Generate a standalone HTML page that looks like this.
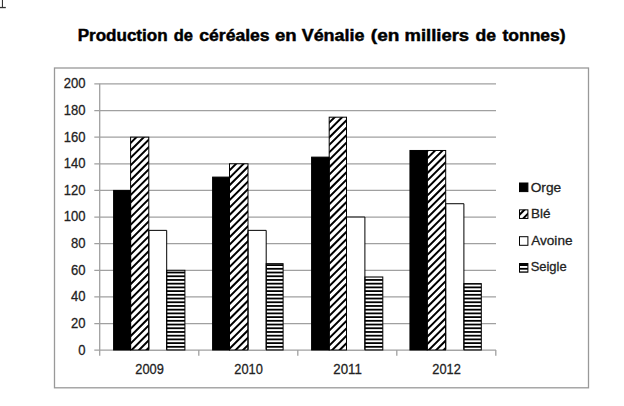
<!DOCTYPE html>
<html><head><meta charset="utf-8"><style>
html,body{margin:0;padding:0;background:#fff;width:624px;height:406px;overflow:hidden}
svg{display:block}
text{font-family:"Liberation Sans",sans-serif}
</style></head><body>
<svg width="624" height="406" viewBox="0 0 624 406">
<defs>
<clipPath id="cb"><rect x="130.60" y="137.16" width="18.20" height="212.84"/><rect x="229.50" y="163.79" width="18.50" height="186.21"/><rect x="329.20" y="117.19" width="17.30" height="232.81"/><rect x="427.20" y="150.47" width="18.50" height="199.53"/><rect x="519.5" y="209.85" width="8.4" height="8.6"/></clipPath>
<clipPath id="cs"><rect x="166.70" y="270.31" width="18.20" height="79.69"/><rect x="266.20" y="263.65" width="16.90" height="86.35"/><rect x="364.90" y="276.97" width="17.90" height="73.03"/><rect x="463.90" y="283.62" width="17.40" height="66.38"/><rect x="519.5" y="263.55" width="8.4" height="8.6"/></clipPath>
</defs>
<rect width="624" height="406" fill="#fff"/>
<rect x="1.9" y="0" width="1.1" height="7.6" fill="#333"/><rect x="0" y="6.9" width="5.8" height="1.3" fill="#333"/>
<text x="77.69" y="41.0" font-size="16" font-weight="bold" fill="#000" stroke="#000" stroke-width="0.45" textLength="89.89" lengthAdjust="spacingAndGlyphs">Production</text>
<text x="173.68" y="41.0" font-size="16" font-weight="bold" fill="#000" stroke="#000" stroke-width="0.45" textLength="19.26" lengthAdjust="spacingAndGlyphs">de</text>
<text x="199.30" y="41.0" font-size="16" font-weight="bold" fill="#000" stroke="#000" stroke-width="0.45" textLength="70.32" lengthAdjust="spacingAndGlyphs">céréales</text>
<text x="275.05" y="41.0" font-size="16" font-weight="bold" fill="#000" stroke="#000" stroke-width="0.45" textLength="21.62" lengthAdjust="spacingAndGlyphs">en</text>
<text x="301.69" y="41.0" font-size="16" font-weight="bold" fill="#000" stroke="#000" stroke-width="0.45" textLength="62.75" lengthAdjust="spacingAndGlyphs">Vénalie</text>
<text x="370.89" y="41.0" font-size="16" font-weight="bold" fill="#000" stroke="#000" stroke-width="0.45" textLength="28.46" lengthAdjust="spacingAndGlyphs">(en</text>
<text x="404.49" y="41.0" font-size="16" font-weight="bold" fill="#000" stroke="#000" stroke-width="0.45" textLength="64.59" lengthAdjust="spacingAndGlyphs">milliers</text>
<text x="475.50" y="41.0" font-size="16" font-weight="bold" fill="#000" stroke="#000" stroke-width="0.45" textLength="20.54" lengthAdjust="spacingAndGlyphs">de</text>
<text x="502.49" y="41.0" font-size="16" font-weight="bold" fill="#000" stroke="#000" stroke-width="0.45" textLength="63.13" lengthAdjust="spacingAndGlyphs">tonnes)</text>
<rect x="54.5" y="68" width="534" height="319.8" fill="none" stroke="#999" stroke-width="1.3"/>
<line x1="94.3" y1="350.20" x2="496" y2="350.20" stroke="#a0a0a0" stroke-width="1.3"/>
<text x="85.6" y="354.60" font-size="14.5" text-anchor="end" fill="#222" stroke="#222" stroke-width="0.28" textLength="7.26" lengthAdjust="spacingAndGlyphs">0</text>
<line x1="94.3" y1="323.57" x2="496" y2="323.57" stroke="#a0a0a0" stroke-width="1.3"/>
<text x="85.6" y="327.97" font-size="14.5" text-anchor="end" fill="#222" stroke="#222" stroke-width="0.28" textLength="14.51" lengthAdjust="spacingAndGlyphs">20</text>
<line x1="94.3" y1="296.94" x2="496" y2="296.94" stroke="#a0a0a0" stroke-width="1.3"/>
<text x="85.6" y="301.34" font-size="14.5" text-anchor="end" fill="#222" stroke="#222" stroke-width="0.28" textLength="14.51" lengthAdjust="spacingAndGlyphs">40</text>
<line x1="94.3" y1="270.31" x2="496" y2="270.31" stroke="#a0a0a0" stroke-width="1.3"/>
<text x="85.6" y="274.71" font-size="14.5" text-anchor="end" fill="#222" stroke="#222" stroke-width="0.28" textLength="14.51" lengthAdjust="spacingAndGlyphs">60</text>
<line x1="94.3" y1="243.68" x2="496" y2="243.68" stroke="#a0a0a0" stroke-width="1.3"/>
<text x="85.6" y="248.08" font-size="14.5" text-anchor="end" fill="#222" stroke="#222" stroke-width="0.28" textLength="14.51" lengthAdjust="spacingAndGlyphs">80</text>
<line x1="94.3" y1="217.05" x2="496" y2="217.05" stroke="#a0a0a0" stroke-width="1.3"/>
<text x="85.6" y="221.45" font-size="14.5" text-anchor="end" fill="#222" stroke="#222" stroke-width="0.28" textLength="21.77" lengthAdjust="spacingAndGlyphs">100</text>
<line x1="94.3" y1="190.42" x2="496" y2="190.42" stroke="#a0a0a0" stroke-width="1.3"/>
<text x="85.6" y="194.82" font-size="14.5" text-anchor="end" fill="#222" stroke="#222" stroke-width="0.28" textLength="21.77" lengthAdjust="spacingAndGlyphs">120</text>
<line x1="94.3" y1="163.79" x2="496" y2="163.79" stroke="#a0a0a0" stroke-width="1.3"/>
<text x="85.6" y="168.19" font-size="14.5" text-anchor="end" fill="#222" stroke="#222" stroke-width="0.28" textLength="21.77" lengthAdjust="spacingAndGlyphs">140</text>
<line x1="94.3" y1="137.16" x2="496" y2="137.16" stroke="#a0a0a0" stroke-width="1.3"/>
<text x="85.6" y="141.56" font-size="14.5" text-anchor="end" fill="#222" stroke="#222" stroke-width="0.28" textLength="21.77" lengthAdjust="spacingAndGlyphs">160</text>
<line x1="94.3" y1="110.53" x2="496" y2="110.53" stroke="#a0a0a0" stroke-width="1.3"/>
<text x="85.6" y="114.93" font-size="14.5" text-anchor="end" fill="#222" stroke="#222" stroke-width="0.28" textLength="21.77" lengthAdjust="spacingAndGlyphs">180</text>
<line x1="94.3" y1="83.90" x2="496" y2="83.90" stroke="#a0a0a0" stroke-width="1.3"/>
<text x="85.6" y="88.30" font-size="14.5" text-anchor="end" fill="#222" stroke="#222" stroke-width="0.28" textLength="21.77" lengthAdjust="spacingAndGlyphs">200</text>
<line x1="99.7" y1="83.7" x2="99.7" y2="355.8" stroke="#a0a0a0" stroke-width="1.3"/>
<line x1="198.80" y1="350" x2="198.80" y2="355.8" stroke="#a0a0a0" stroke-width="1.3"/>
<line x1="297.80" y1="350" x2="297.80" y2="355.8" stroke="#a0a0a0" stroke-width="1.3"/>
<line x1="396.80" y1="350" x2="396.80" y2="355.8" stroke="#a0a0a0" stroke-width="1.3"/>
<line x1="495.80" y1="350" x2="495.80" y2="355.8" stroke="#a0a0a0" stroke-width="1.3"/>
<rect x="113.60" y="190.42" width="17.00" height="159.58" fill="#000"/>
<rect x="212.60" y="177.10" width="16.90" height="172.90" fill="#000"/>
<rect x="311.60" y="157.13" width="17.60" height="192.87" fill="#000"/>
<rect x="409.95" y="150.47" width="17.25" height="199.53" fill="#000"/>
<rect x="130.60" y="137.16" width="18.20" height="212.84" fill="#fff"/>
<rect x="229.50" y="163.79" width="18.50" height="186.21" fill="#fff"/>
<rect x="329.20" y="117.19" width="17.30" height="232.81" fill="#fff"/>
<rect x="427.20" y="150.47" width="18.50" height="199.53" fill="#fff"/>
<rect x="148.80" y="230.36" width="17.90" height="119.64" fill="#fff"/>
<rect x="248.00" y="230.36" width="18.20" height="119.64" fill="#fff"/>
<rect x="346.50" y="217.05" width="18.40" height="132.95" fill="#fff"/>
<rect x="445.70" y="203.73" width="18.20" height="146.27" fill="#fff"/>
<rect x="166.70" y="270.31" width="18.20" height="79.69" fill="#fff"/>
<rect x="266.20" y="263.65" width="16.90" height="86.35" fill="#fff"/>
<rect x="364.90" y="276.97" width="17.90" height="73.03" fill="#fff"/>
<rect x="463.90" y="283.62" width="17.40" height="66.38" fill="#fff"/>
<path clip-path="url(#cb)" d="M102.140,60 L-237.860,400 M109.570,60 L-230.430,400 M117.000,60 L-223.000,400 M124.430,60 L-215.570,400 M131.860,60 L-208.140,400 M139.290,60 L-200.710,400 M146.720,60 L-193.280,400 M154.150,60 L-185.850,400 M161.580,60 L-178.420,400 M169.010,60 L-170.990,400 M176.440,60 L-163.560,400 M183.870,60 L-156.130,400 M191.300,60 L-148.700,400 M198.730,60 L-141.270,400 M206.160,60 L-133.840,400 M213.590,60 L-126.410,400 M221.020,60 L-118.980,400 M228.450,60 L-111.550,400 M235.880,60 L-104.120,400 M243.310,60 L-96.690,400 M250.740,60 L-89.260,400 M258.170,60 L-81.830,400 M265.600,60 L-74.400,400 M273.030,60 L-66.970,400 M280.460,60 L-59.540,400 M287.890,60 L-52.110,400 M295.320,60 L-44.680,400 M302.750,60 L-37.250,400 M310.180,60 L-29.820,400 M317.610,60 L-22.390,400 M325.040,60 L-14.960,400 M332.470,60 L-7.530,400 M339.900,60 L-0.100,400 M347.330,60 L7.330,400 M354.760,60 L14.760,400 M362.190,60 L22.190,400 M369.620,60 L29.620,400 M377.050,60 L37.050,400 M384.480,60 L44.480,400 M391.910,60 L51.910,400 M399.340,60 L59.340,400 M406.770,60 L66.770,400 M414.200,60 L74.200,400 M421.630,60 L81.630,400 M429.060,60 L89.060,400 M436.490,60 L96.490,400 M443.920,60 L103.920,400 M451.350,60 L111.350,400 M458.780,60 L118.780,400 M466.210,60 L126.210,400 M473.640,60 L133.640,400 M481.070,60 L141.070,400 M488.500,60 L148.500,400 M495.930,60 L155.930,400 M503.360,60 L163.360,400 M510.790,60 L170.790,400 M518.220,60 L178.220,400 M525.650,60 L185.650,400 M533.080,60 L193.080,400 M540.510,60 L200.510,400 M547.940,60 L207.940,400 M555.370,60 L215.370,400 M562.800,60 L222.800,400 M570.230,60 L230.230,400 M577.660,60 L237.660,400 M585.090,60 L245.090,400 M592.520,60 L252.520,400 M599.950,60 L259.950,400 M607.380,60 L267.380,400 M614.810,60 L274.810,400 M622.240,60 L282.240,400 M629.670,60 L289.670,400 M637.100,60 L297.100,400 M644.530,60 L304.530,400 M651.960,60 L311.960,400 M659.390,60 L319.390,400 M666.820,60 L326.820,400 M674.250,60 L334.250,400 M681.680,60 L341.680,400 M689.110,60 L349.110,400 M696.540,60 L356.540,400 M703.970,60 L363.970,400 M711.400,60 L371.400,400 M718.830,60 L378.830,400 M726.260,60 L386.260,400 M733.690,60 L393.690,400 M741.120,60 L401.120,400 M748.550,60 L408.550,400 M755.980,60 L415.980,400 M763.410,60 L423.410,400 M770.840,60 L430.840,400 M778.270,60 L438.270,400 M785.700,60 L445.700,400 M793.130,60 L453.130,400 M800.560,60 L460.560,400 M807.990,60 L467.990,400 M815.420,60 L475.420,400 M822.850,60 L482.850,400 M830.280,60 L490.280,400 M837.710,60 L497.710,400 M845.140,60 L505.140,400 M852.570,60 L512.570,400 M860.000,60 L520.000,400 M867.430,60 L527.430,400 M874.860,60 L534.860,400 M882.290,60 L542.290,400 M889.720,60 L549.720,400 M897.150,60 L557.150,400 M904.580,60 L564.580,400 M912.010,60 L572.010,400 M919.440,60 L579.440,400 M926.870,60 L586.870,400 M934.300,60 L594.300,400 " stroke="#000" stroke-width="2.0" fill="none"/>
<g clip-path="url(#cs)" fill="#000"><rect x="100" y="59.868" width="440" height="1.8"/><rect x="100" y="63.583" width="440" height="1.8"/><rect x="100" y="67.298" width="440" height="1.8"/><rect x="100" y="71.013" width="440" height="1.8"/><rect x="100" y="74.728" width="440" height="1.8"/><rect x="100" y="78.443" width="440" height="1.8"/><rect x="100" y="82.158" width="440" height="1.8"/><rect x="100" y="85.873" width="440" height="1.8"/><rect x="100" y="89.588" width="440" height="1.8"/><rect x="100" y="93.303" width="440" height="1.8"/><rect x="100" y="97.018" width="440" height="1.8"/><rect x="100" y="100.733" width="440" height="1.8"/><rect x="100" y="104.448" width="440" height="1.8"/><rect x="100" y="108.163" width="440" height="1.8"/><rect x="100" y="111.878" width="440" height="1.8"/><rect x="100" y="115.593" width="440" height="1.8"/><rect x="100" y="119.308" width="440" height="1.8"/><rect x="100" y="123.023" width="440" height="1.8"/><rect x="100" y="126.738" width="440" height="1.8"/><rect x="100" y="130.453" width="440" height="1.8"/><rect x="100" y="134.168" width="440" height="1.8"/><rect x="100" y="137.883" width="440" height="1.8"/><rect x="100" y="141.598" width="440" height="1.8"/><rect x="100" y="145.313" width="440" height="1.8"/><rect x="100" y="149.028" width="440" height="1.8"/><rect x="100" y="152.743" width="440" height="1.8"/><rect x="100" y="156.458" width="440" height="1.8"/><rect x="100" y="160.173" width="440" height="1.8"/><rect x="100" y="163.888" width="440" height="1.8"/><rect x="100" y="167.603" width="440" height="1.8"/><rect x="100" y="171.318" width="440" height="1.8"/><rect x="100" y="175.033" width="440" height="1.8"/><rect x="100" y="178.748" width="440" height="1.8"/><rect x="100" y="182.463" width="440" height="1.8"/><rect x="100" y="186.178" width="440" height="1.8"/><rect x="100" y="189.893" width="440" height="1.8"/><rect x="100" y="193.608" width="440" height="1.8"/><rect x="100" y="197.323" width="440" height="1.8"/><rect x="100" y="201.038" width="440" height="1.8"/><rect x="100" y="204.753" width="440" height="1.8"/><rect x="100" y="208.468" width="440" height="1.8"/><rect x="100" y="212.183" width="440" height="1.8"/><rect x="100" y="215.898" width="440" height="1.8"/><rect x="100" y="219.613" width="440" height="1.8"/><rect x="100" y="223.328" width="440" height="1.8"/><rect x="100" y="227.043" width="440" height="1.8"/><rect x="100" y="230.758" width="440" height="1.8"/><rect x="100" y="234.473" width="440" height="1.8"/><rect x="100" y="238.188" width="440" height="1.8"/><rect x="100" y="241.903" width="440" height="1.8"/><rect x="100" y="245.618" width="440" height="1.8"/><rect x="100" y="249.333" width="440" height="1.8"/><rect x="100" y="253.048" width="440" height="1.8"/><rect x="100" y="256.763" width="440" height="1.8"/><rect x="100" y="260.478" width="440" height="1.8"/><rect x="100" y="264.193" width="440" height="1.8"/><rect x="100" y="267.908" width="440" height="1.8"/><rect x="100" y="271.623" width="440" height="1.8"/><rect x="100" y="275.338" width="440" height="1.8"/><rect x="100" y="279.053" width="440" height="1.8"/><rect x="100" y="282.768" width="440" height="1.8"/><rect x="100" y="286.483" width="440" height="1.8"/><rect x="100" y="290.198" width="440" height="1.8"/><rect x="100" y="293.913" width="440" height="1.8"/><rect x="100" y="297.628" width="440" height="1.8"/><rect x="100" y="301.343" width="440" height="1.8"/><rect x="100" y="305.058" width="440" height="1.8"/><rect x="100" y="308.773" width="440" height="1.8"/><rect x="100" y="312.488" width="440" height="1.8"/><rect x="100" y="316.203" width="440" height="1.8"/><rect x="100" y="319.918" width="440" height="1.8"/><rect x="100" y="323.633" width="440" height="1.8"/><rect x="100" y="327.348" width="440" height="1.8"/><rect x="100" y="331.063" width="440" height="1.8"/><rect x="100" y="334.778" width="440" height="1.8"/><rect x="100" y="338.493" width="440" height="1.8"/><rect x="100" y="342.208" width="440" height="1.8"/><rect x="100" y="345.923" width="440" height="1.8"/><rect x="100" y="349.638" width="440" height="1.8"/><rect x="100" y="353.353" width="440" height="1.8"/><rect x="100" y="357.068" width="440" height="1.8"/><rect x="100" y="360.783" width="440" height="1.8"/><rect x="100" y="364.498" width="440" height="1.8"/><rect x="100" y="368.213" width="440" height="1.8"/><rect x="100" y="371.928" width="440" height="1.8"/><rect x="100" y="375.643" width="440" height="1.8"/><rect x="100" y="379.358" width="440" height="1.8"/><rect x="100" y="383.073" width="440" height="1.8"/><rect x="100" y="386.788" width="440" height="1.8"/><rect x="100" y="390.503" width="440" height="1.8"/><rect x="100" y="394.218" width="440" height="1.8"/><rect x="100" y="397.933" width="440" height="1.8"/></g>
<rect x="113.60" y="190.42" width="17.00" height="159.58" fill="none" stroke="#000" stroke-width="1.0"/>
<rect x="130.60" y="137.16" width="18.20" height="212.84" fill="none" stroke="#000" stroke-width="1.0"/>
<path d="M148.80,350.0 L148.80,230.36 L166.70,230.36 L166.70,350.0" fill="none" stroke="#000" stroke-width="1.0"/>
<rect x="166.70" y="270.31" width="18.20" height="79.69" fill="none" stroke="#000" stroke-width="1.0"/>
<line x1="149.30" y1="350.20" x2="166.20" y2="350.20" stroke="#a0a0a0" stroke-width="1.3"/>
<text x="149.60" y="374.0" font-size="14.5" text-anchor="middle" fill="#222" stroke="#222" stroke-width="0.28" textLength="28.54" lengthAdjust="spacingAndGlyphs">2009</text>
<rect x="212.60" y="177.10" width="16.90" height="172.90" fill="none" stroke="#000" stroke-width="1.0"/>
<rect x="229.50" y="163.79" width="18.50" height="186.21" fill="none" stroke="#000" stroke-width="1.0"/>
<path d="M248.00,350.0 L248.00,230.36 L266.20,230.36 L266.20,350.0" fill="none" stroke="#000" stroke-width="1.0"/>
<rect x="266.20" y="263.65" width="16.90" height="86.35" fill="none" stroke="#000" stroke-width="1.0"/>
<line x1="248.50" y1="350.20" x2="265.70" y2="350.20" stroke="#a0a0a0" stroke-width="1.3"/>
<text x="248.60" y="374.0" font-size="14.5" text-anchor="middle" fill="#222" stroke="#222" stroke-width="0.28" textLength="28.54" lengthAdjust="spacingAndGlyphs">2010</text>
<rect x="311.60" y="157.13" width="17.60" height="192.87" fill="none" stroke="#000" stroke-width="1.0"/>
<rect x="329.20" y="117.19" width="17.30" height="232.81" fill="none" stroke="#000" stroke-width="1.0"/>
<path d="M346.50,350.0 L346.50,217.05 L364.90,217.05 L364.90,350.0" fill="none" stroke="#000" stroke-width="1.0"/>
<rect x="364.90" y="276.97" width="17.90" height="73.03" fill="none" stroke="#000" stroke-width="1.0"/>
<line x1="347.00" y1="350.20" x2="364.40" y2="350.20" stroke="#a0a0a0" stroke-width="1.3"/>
<text x="347.60" y="374.0" font-size="14.5" text-anchor="middle" fill="#222" stroke="#222" stroke-width="0.28" textLength="28.54" lengthAdjust="spacingAndGlyphs">2011</text>
<rect x="409.95" y="150.47" width="17.25" height="199.53" fill="none" stroke="#000" stroke-width="1.0"/>
<rect x="427.20" y="150.47" width="18.50" height="199.53" fill="none" stroke="#000" stroke-width="1.0"/>
<path d="M445.70,350.0 L445.70,203.73 L463.90,203.73 L463.90,350.0" fill="none" stroke="#000" stroke-width="1.0"/>
<rect x="463.90" y="283.62" width="17.40" height="66.38" fill="none" stroke="#000" stroke-width="1.0"/>
<line x1="446.20" y1="350.20" x2="463.40" y2="350.20" stroke="#a0a0a0" stroke-width="1.3"/>
<text x="446.60" y="374.0" font-size="14.5" text-anchor="middle" fill="#222" stroke="#222" stroke-width="0.28" textLength="28.54" lengthAdjust="spacingAndGlyphs">2012</text>
<rect x="519.5" y="183.00" width="8.4" height="8.6" fill="#000" stroke="#000" stroke-width="1"/>
<text x="530.71" y="191.50" font-size="13.0" fill="#222" stroke="#222" stroke-width="0.28" textLength="30.43" lengthAdjust="spacingAndGlyphs">Orge</text>
<rect x="519.5" y="209.85" width="8.4" height="8.6" fill="none" stroke="#000" stroke-width="1"/>
<text x="531.06" y="218.15" font-size="13.0" fill="#222" stroke="#222" stroke-width="0.28" textLength="19.47" lengthAdjust="spacingAndGlyphs">Blé</text>
<rect x="519.5" y="236.70" width="8.4" height="8.6" fill="none" stroke="#000" stroke-width="1"/>
<text x="531.20" y="244.80" font-size="13.0" fill="#222" stroke="#222" stroke-width="0.28" textLength="41.31" lengthAdjust="spacingAndGlyphs">Avoine</text>
<rect x="519.5" y="263.35" width="8.4" height="1.5" fill="#000"/><rect x="519.5" y="263.55" width="8.4" height="8.6" fill="none" stroke="#000" stroke-width="1"/>
<text x="530.65" y="271.45" font-size="13.0" fill="#222" stroke="#222" stroke-width="0.28" textLength="35.99" lengthAdjust="spacingAndGlyphs">Seigle</text>
</svg>
</body></html>
